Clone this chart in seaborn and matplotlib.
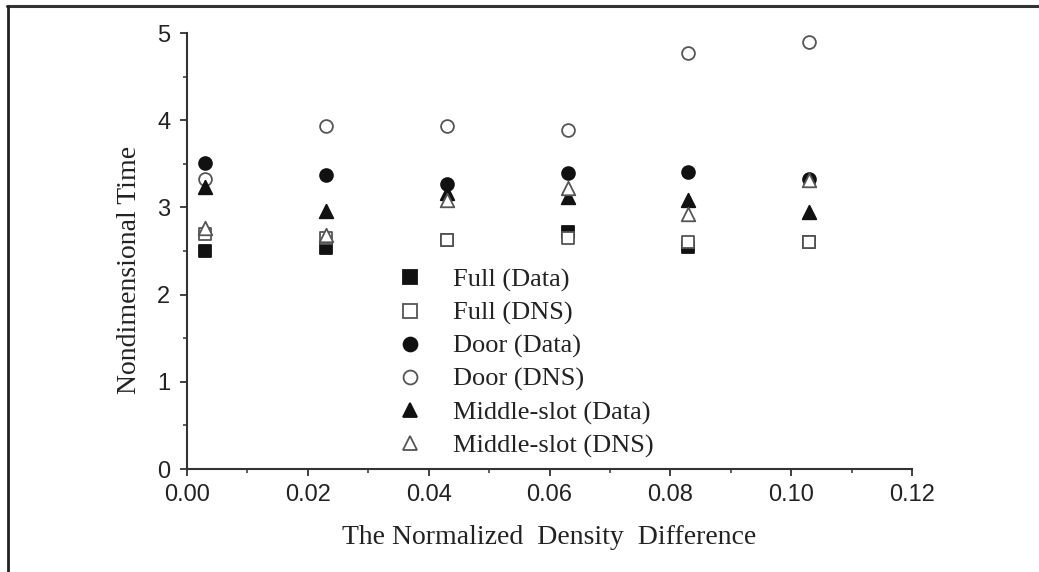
import matplotlib
matplotlib.use("Agg")
import matplotlib.pyplot as plt
from matplotlib.lines import Line2D
from matplotlib.ticker import MultipleLocator, FormatStrFormatter
import seaborn as sns
import pandas as pd

# ---- data ----
density_diff = [0.003, 0.023, 0.043, 0.063, 0.083, 0.103]
full_data = [2.50, 2.53, 2.63, 2.72, 2.55, 2.60]
full_dns = [2.70, 2.65, 2.63, 2.65, 2.60, 2.60]
door_data = [3.51, 3.37, 3.27, 3.39, 3.41, 3.33]
door_dns = [3.33, 3.93, 3.93, 3.89, 4.77, 4.90]
middle_data = [3.23, 2.96, 3.16, 3.12, 3.08, 2.95]
middle_dns = [2.76, 2.68, 3.08, 3.22, 2.93, 3.31]

series_names = ["Full (Data)", "Full (DNS)", "Door (Data)", "Door (DNS)",
                "Middle-slot (Data)", "Middle-slot (DNS)"]
series_values = [full_data, full_dns, door_data, door_dns, middle_data, middle_dns]
x_ticks = [0.00, 0.02, 0.04, 0.06, 0.08, 0.10, 0.12]
y_ticks = [0, 1, 2, 3, 4, 5]

rows = []
for name, vals in zip(series_names, series_values):
    for xv, yv in zip(density_diff, vals):
        rows.append({"series": name, "x": xv, "y": yv})
df = pd.DataFrame(rows)

sns.set_theme(style="white")
plt.rcParams["font.family"] = ["Liberation Sans", "DejaVu Sans"]

fig = plt.figure(figsize=(10.39, 5.72), dpi=100)
ax = fig.add_axes([187 / 1039, 1 - 469 / 572, (912 - 187) / 1039, (469 - 33) / 572])

styles = {
    "Full (Data)": dict(marker="s", facecolor="#111111", edgecolor="#111111", s=65),
    "Full (DNS)": dict(marker="s", facecolor="white", edgecolor="#555555", s=65),
    "Door (Data)": dict(marker="o", facecolor="#111111", edgecolor="#111111", s=85),
    "Door (DNS)": dict(marker="o", facecolor="white", edgecolor="#555555", s=85),
    "Middle-slot (Data)": dict(marker="^", facecolor="#111111", edgecolor="#111111", s=95),
    "Middle-slot (DNS)": dict(marker="^", facecolor="white", edgecolor="#555555", s=95),
}

handles = []
for name in series_names:
    st = styles[name]
    sub = df[df["series"] == name]
    sns.scatterplot(data=sub, x="x", y="y", ax=ax, marker=st["marker"], s=st["s"],
                    color=st["facecolor"], edgecolor=st["edgecolor"], linewidth=1.3,
                    legend=False, zorder=3)
    handles.append(Line2D([], [], linestyle="none", marker=st["marker"],
                          markersize=10, markerfacecolor=st["facecolor"],
                          markeredgecolor=st["edgecolor"], markeredgewidth=1.3))

ax.set_xlim(0, 0.12)
ax.set_ylim(0, 5)
ax.set_xticks(x_ticks)
ax.set_yticks(y_ticks)
ax.xaxis.set_major_formatter(FormatStrFormatter("%.2f"))
ax.xaxis.set_minor_locator(MultipleLocator(0.01))
ax.yaxis.set_minor_locator(MultipleLocator(0.5))

for side in ["top", "right"]:
    ax.spines[side].set_visible(False)
for side in ["left", "bottom"]:
    ax.spines[side].set_linewidth(1.5)
    ax.spines[side].set_color("#333333")

ax.tick_params(which="major", direction="out", length=5, width=1.3, color="#333333",
               labelsize=17, labelcolor="#222222", bottom=True, left=True)
ax.tick_params(axis="x", which="major", pad=6)
ax.tick_params(axis="y", which="major", pad=7)
ax.tick_params(which="minor", direction="out", length=3, width=1.1, color="#333333",
               bottom=True, left=True)

serif = ["Liberation Serif", "DejaVu Serif"]
ax.set_xlabel("The Normalized  Density  Difference", fontsize=20, family=serif,
              color="#222222")
ax.set_ylabel("Nondimensional Time", fontsize=20, family=serif, color="#222222")
ax.xaxis.set_label_coords(0.5, -(538 - 469) / 436, transform=ax.transAxes)
ax.yaxis.set_label_coords(-(187 - 130) / 725, (469 - 270) / 436, transform=ax.transAxes)
ax.xaxis.label.set_va("center")
ax.yaxis.label.set_va("center")

leg = ax.legend(handles, series_names, loc="upper left",
                bbox_to_anchor=(384 / 1039, 1 - 255 / 572), bbox_transform=fig.transFigure,
                frameon=False, prop={"family": serif, "size": 19},
                handlelength=1.0, handletextpad=1.1, labelspacing=0.35, borderpad=0)
for t in leg.get_texts():
    t.set_color("#222222")

# figure frame (top and left border lines)
fig.add_artist(Line2D([7 / 1039, 1.0], [1 - 6 / 572, 1 - 6 / 572],
                      transform=fig.transFigure, color="#333333", linewidth=2.2))
fig.add_artist(Line2D([8 / 1039, 8 / 1039], [1 - 6 / 572, 0.0],
                      transform=fig.transFigure, color="#222222", linewidth=2.0))

fig.savefig("out.png", dpi=100)
